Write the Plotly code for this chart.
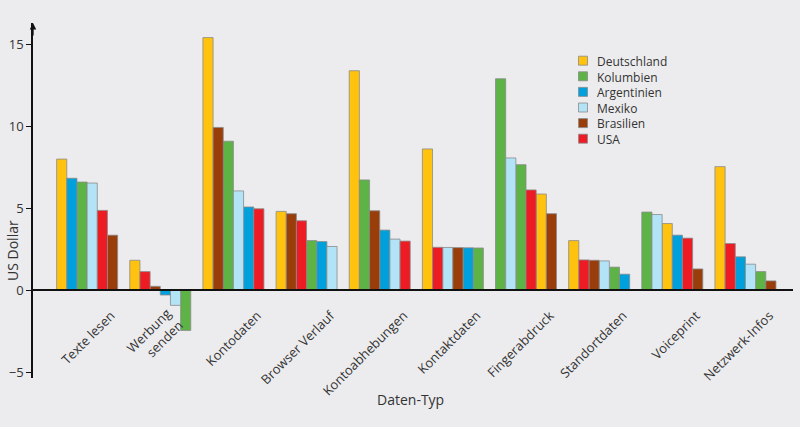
import plotly.graph_objects as go

categories = ["Texte lesen", "Werbung<br>senden", "Kontodaten", "Browser Verlauf",
              "Kontoabhebungen", "Kontaktdaten", "Fingerabdruck", "Standortdaten",
              "Voiceprint", "Netzwerk-Infos"]
countries = ["Deutschland", "Kolumbien", "Argentinien", "Mexiko", "Brasilien", "USA"]

deutschland = [8.0, 1.83, 15.41, 4.81, 13.39, 8.62, 5.87, 3.03, 4.07, 7.54]
kolumbien   = [6.6, -2.45, 9.09, 3.03, 6.73, 2.58, 12.9, 1.41, 4.77, 1.14]
argentinien = [6.83, -0.29, 5.08, 2.97, 3.67, 2.59, 7.66, 0.98, 3.36, 2.04]
mexiko      = [6.54, -0.92, 6.06, 2.67, 3.12, 2.61, 8.07, 1.79, 4.62, 1.59]
brasilien   = [3.36, 0.24, 9.93, 4.67, 4.85, 2.60, 4.67, 1.83, 1.30, 0.57]
usa         = [4.87, 1.14, 4.97, 4.24, 3.0, 2.62, 6.12, 1.85, 3.18, 2.85]
series = [deutschland, kolumbien, argentinien, mexiko, brasilien, usa]

colors = ["#FFC20E", "#5DB346", "#00A0DC", "#B3E3F7", "#993D0B", "#ED1C24"]
# the source draws Argentinien's "Fingerabdruck" bar in green
color_override = {("Argentinien", "Fingerabdruck"): "#5DB346"}

y_min, y_max = -5.35, 16.3
x_range = [-0.74, 9.65]
bar_w = 0.139
n = len(countries)
two_line_label = "Werbung<br>senden"

W, H = 800, 427
ML, MR, MT, MB = 33, 7, 23, 49
PW, PH = W - ML - MR, H - MT - MB


def px_x(px):
    return (px - ML) / PW


def px_y(py):
    return 1 - (py - MT) / PH


# rank within each category (descending value) determines bar order
ranks = []
for j in range(len(categories)):
    vals = [s[j] for s in series]
    order = sorted(range(n), key=lambda i: -vals[i])
    r = [0] * n
    for pos, i in enumerate(order):
        r[i] = pos
    ranks.append(r)

fig = go.Figure()
for i, (name, vals) in enumerate(zip(countries, series)):
    offs = [-n * bar_w / 2 + ranks[j][i] * bar_w for j in range(len(categories))]
    cols = [color_override.get((name, c.replace("<br>", " ")), colors[i]) for c in categories]
    fig.add_trace(go.Bar(
        name=name, x=categories, y=vals, offset=offs, width=bar_w,
        marker=dict(color=cols, line=dict(color="#8a8a8a", width=0.8)),
        showlegend=False,
    ))
# empty helper trace so that the secondary label axis gets drawn
fig.add_trace(go.Scatter(x=[], y=[], xaxis="x2", yaxis="y", showlegend=False,
                         hoverinfo="skip"))

zero_frac = (0 - y_min) / (y_max - y_min)
font_family = "Open Sans, Noto Sans, sans-serif"
txt = "#333333"

annotations = [
    dict(x=0, xref="paper", y=y_max, yref="y", ax=0, ay=14, text="",
         showarrow=True, arrowhead=2, arrowsize=1, arrowwidth=1.3,
         arrowcolor="#111111"),
    dict(x=px_x(410), y=px_y(400), xref="paper", yref="paper", text="Daten-Typ",
         xanchor="center", yanchor="middle", showarrow=False,
         font=dict(size=14, color=txt)),
    dict(x=px_x(12), y=px_y(251), xref="paper", yref="paper", text="US Dollar",
         textangle=-90, xanchor="center", yanchor="middle", showarrow=False,
         font=dict(size=14, color=txt)),
]
shapes = []
# legend (drawn manually to match the compact row spacing)
leg_x, leg_y0, leg_dy, sq = 578.5, 60.7, 15.6, 9
for i, name in enumerate(countries):
    cy = leg_y0 + i * leg_dy
    shapes.append(dict(type="rect", xref="paper", yref="paper",
                       x0=px_x(leg_x), x1=px_x(leg_x + sq),
                       y0=px_y(cy + sq / 2), y1=px_y(cy - sq / 2),
                       fillcolor=colors[i], line=dict(color="#8a8a8a", width=0.8)))
annotations.append(dict(x=px_x(596), y=px_y(leg_y0 - 8.5), xref="paper", yref="paper",
                        text="<br>".join(countries), xanchor="left", yanchor="top",
                        align="left", showarrow=False, borderpad=0,
                        font=dict(size=12, color=txt)))

tick_text_main = ["" if c == two_line_label else c for c in categories]

fig.update_layout(
    width=W, height=H,
    margin=dict(l=ML, r=MR, t=MT, b=MB),
    paper_bgcolor="#ECECEE", plot_bgcolor="#ECECEE",
    barmode="overlay",
    font=dict(family=font_family, size=13, color=txt),
    showlegend=False,
    xaxis=dict(type="category", categoryarray=categories, range=x_range,
               tickmode="array", tickvals=categories, ticktext=tick_text_main,
               anchor="free", position=zero_frac, showline=True, linecolor="#111111",
               linewidth=1.5, ticks="", tickangle=-45, showgrid=False, zeroline=False,
               automargin=False, ticklabelshift=24, ticklabelstandoff=12,
               tickfont=dict(size=13, color=txt)),
    xaxis2=dict(type="linear", overlaying="x", range=x_range, tickmode="array",
                tickvals=[categories.index(two_line_label)], ticktext=[two_line_label],
                anchor="free", position=zero_frac, side="bottom", showline=False,
                ticks="", tickangle=-45, showgrid=False, zeroline=False,
                automargin=False, ticklabelshift=7, ticklabelstandoff=12,
                tickfont=dict(size=13, color=txt)),
    yaxis=dict(range=[y_min, y_max], tickvals=[-5, 0, 5, 10, 15], showline=True,
               linecolor="#111111", linewidth=1.5, ticks="outside", ticklen=5,
               tickcolor="#111111", tickwidth=1.2, showgrid=False, zeroline=False,
               automargin=False, tickfont=dict(size=13, color=txt)),
    annotations=annotations,
    shapes=shapes,
)

fig.write_html("out.html", config={"displayModeBar": False}, post_script=(
    "document.body.style.margin='0';document.body.style.padding='0';"
    "document.body.style.overflow='hidden';"))
